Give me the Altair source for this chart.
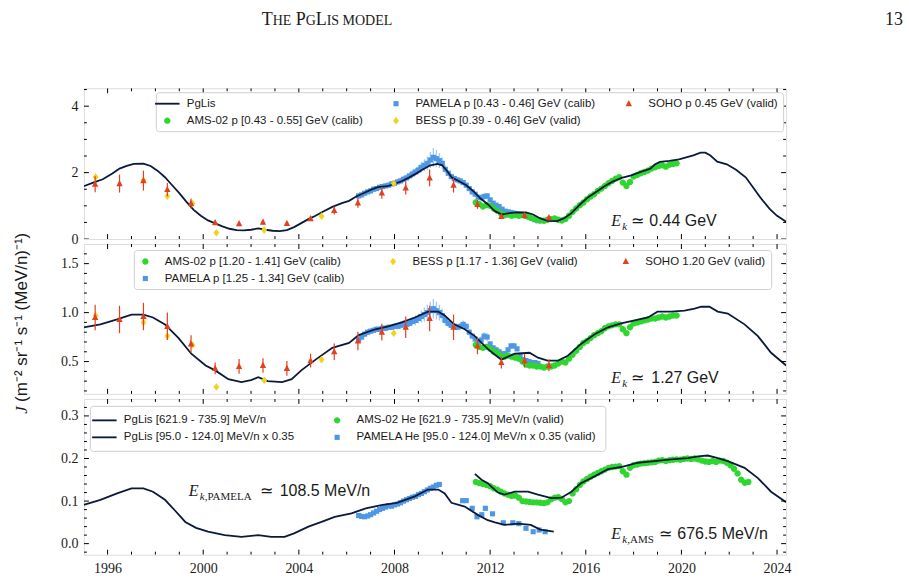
import altair as alt
import pandas as pd

# ---------------- styling ----------------
SERIF = "Liberation Serif"
SANS = "Liberation Sans"
INK = "#1a1a1a"
NAVY = "#0b1a3b"
GREEN = "#2fd62f"
BLUE = "#4d97e6"
BLUE_ERR = "#93c0f0"
GOLD = "#f2d21b"
RED = "#e2401e"

# marker glyphs (unit box -1..1), shared by data points and legend entries
LINE_GLYPH = "M-2,-0.15L2,-0.15L2,0.15L-2,0.15Z"
CIRCLE = "M-0.52,0A0.52,0.52 0 1,0 0.52,0A0.52,0.52 0 1,0 -0.52,0Z"
SQUARE = "M-0.42,-0.42L0.42,-0.42L0.42,0.42L-0.42,0.42Z"
DIAMOND = "M0,-0.62L0.48,0L0,0.62L-0.48,0Z"
TRIANGLE = "M0,-0.6L0.52,0.42L-0.52,0.42Z"

W = 703
H1, H2, H3 = 151, 150, 156
X_DOMAIN = [1995.01, 2024.38]
Y1_DOMAIN = [0.0, 4.54]
Y2_DOMAIN = [0.17, 1.70]
Y3_DOMAIN = [-0.026, 0.340]

# ---------------- tick values ----------------
YEAR_MAJOR = [1996, 2000, 2004, 2008, 2012, 2016, 2020, 2024]
YEAR_MINOR = [1997, 1998, 1999, 2001, 2002, 2003, 2005, 2006, 2007, 2009, 2010, 2011,
              2013, 2014, 2015, 2017, 2018, 2019, 2021, 2022, 2023]
Y1_MAJOR = [0, 2, 4]
Y1_MINOR = [0.5, 1.0, 1.5, 2.5, 3.0, 3.5, 4.5]
Y2_MAJOR = [0.5, 1.0, 1.5]
Y2_MINOR = [0.2, 0.3, 0.4, 0.6, 0.7, 0.8, 0.9, 1.1, 1.2, 1.3, 1.4, 1.6]
Y3_MAJOR = [0.0, 0.1, 0.2, 0.3]
Y3_MINOR = [-0.02, 0.02, 0.04, 0.06, 0.08, 0.12, 0.14, 0.16, 0.18, 0.22, 0.24, 0.26,
            0.28, 0.32]

# ---------------- PgLis model curves ----------------
PGLIS_P1_YEARS = [1995.0, 1995.4, 1995.8, 1996.2, 1996.5, 1996.8, 1997.1, 1997.5, 1997.8,
                  1998.1, 1998.4, 1998.7, 1999.0, 1999.3, 1999.6, 1999.9, 2000.2, 2000.5,
                  2000.8, 2001.1, 2001.4, 2001.7, 2002.0, 2002.3, 2002.6, 2002.9, 2003.2,
                  2003.5, 2003.8, 2004.1, 2004.4, 2004.7, 2005.0, 2005.4, 2005.8, 2006.1,
                  2006.4, 2006.7, 2007.0, 2007.3, 2007.7, 2008.0, 2008.3, 2008.6, 2008.9,
                  2009.2, 2009.5, 2009.8, 2010.0, 2010.2, 2010.4, 2010.7, 2011.0, 2011.3,
                  2011.6, 2011.9, 2012.2, 2012.5, 2012.8, 2013.1, 2013.5, 2013.8, 2014.1,
                  2014.4, 2014.8, 2015.1, 2015.4, 2015.8, 2016.1, 2016.4, 2016.8, 2017.1,
                  2017.5, 2017.9, 2018.3, 2018.7, 2018.9, 2019.1, 2019.5, 2019.9, 2020.2,
                  2020.5, 2020.8, 2021.0, 2021.2, 2021.5, 2021.9, 2022.3, 2022.7, 2023.0,
                  2023.3, 2023.7, 2024.0, 2024.38]
PGLIS_P1 = [1.59, 1.70, 1.80, 1.97, 2.12, 2.20, 2.26, 2.27, 2.20,
            2.05, 1.86, 1.62, 1.38, 1.12, 0.88, 0.70, 0.56, 0.47,
            0.38, 0.31, 0.27, 0.26, 0.28, 0.32, 0.28, 0.25, 0.24,
            0.27, 0.36, 0.48, 0.60, 0.70, 0.82, 0.97, 1.08, 1.15,
            1.28, 1.38, 1.48, 1.56, 1.59, 1.66, 1.74, 1.85, 1.97,
            2.10, 2.22, 2.26, 2.22, 2.05, 1.85, 1.74, 1.62, 1.44,
            1.22, 1.05, 0.84, 0.74, 0.78, 0.80, 0.80, 0.74, 0.62,
            0.55, 0.54, 0.63, 0.78, 1.07, 1.26, 1.40, 1.60, 1.72,
            1.84, 1.92, 2.02, 2.12, 2.25, 2.32, 2.35, 2.40, 2.46,
            2.52, 2.60, 2.60, 2.52, 2.33, 2.25, 2.08, 1.85, 1.55,
            1.25, 0.90, 0.70, 0.52]

PGLIS_P2_YEARS = [1995.0, 1995.7, 1996.4, 1997.0, 1997.5, 1997.9, 1998.4, 1998.97, 1999.5,
                  2000.1, 2000.5, 2001.05, 2001.6, 2002.0, 2002.3, 2002.7, 2003.3, 2003.7,
                  2004.1, 2004.7, 2005.4, 2006.1, 2006.5, 2007.2, 2007.74, 2008.3, 2008.85,
                  2009.4, 2009.83, 2010.1, 2010.5, 2010.94, 2011.36, 2011.9, 2012.2, 2012.47,
                  2013.03, 2013.65, 2014.0, 2014.4, 2014.84, 2015.25, 2015.8, 2016.37,
                  2016.93, 2017.48, 2018.04, 2018.6, 2019.0, 2019.57, 2020.13, 2020.55,
                  2020.83, 2021.17, 2021.52, 2021.94, 2022.64, 2023.2, 2023.75, 2024.38]
PGLIS_P2 = [0.85, 0.88, 0.93, 0.98, 0.98, 0.95, 0.88, 0.74, 0.58,
            0.46, 0.41, 0.32, 0.29, 0.31, 0.34, 0.30, 0.29, 0.32,
            0.41, 0.52, 0.64, 0.69, 0.77, 0.83, 0.86, 0.90, 0.95,
            1.01, 1.01, 0.97, 0.88, 0.83, 0.76, 0.63, 0.57, 0.52,
            0.58, 0.59, 0.54, 0.51, 0.51, 0.56, 0.68, 0.78,
            0.85, 0.89, 0.92, 0.95, 1.01, 1.01, 1.02, 1.04,
            1.06, 1.06, 1.01, 0.99, 0.88, 0.76, 0.59, 0.46]

PGLIS_HE_LO_YEARS = [1995.0, 1995.7, 1996.4, 1997.0, 1997.5, 1997.9, 1998.4, 1998.8, 1999.25,
                     1999.7, 2000.2, 2000.9, 2001.6, 2002.3, 2002.85, 2003.4, 2003.8, 2004.4,
                     2004.95, 2005.5, 2006.2, 2006.8, 2007.5, 2008.1, 2008.85, 2009.4,
                     2009.83, 2010.1, 2010.38, 2010.94, 2011.5, 2011.9, 2012.2, 2012.6,
                     2013.17, 2013.7, 2014.1, 2014.66]
PGLIS_HE_LO = [0.091, 0.103, 0.118, 0.130, 0.130, 0.122, 0.103, 0.079, 0.051,
               0.037, 0.028, 0.020, 0.016, 0.020, 0.016, 0.016, 0.024, 0.040,
               0.051, 0.063, 0.071, 0.083, 0.091, 0.096, 0.111, 0.127,
               0.127, 0.118, 0.096, 0.087, 0.067, 0.055, 0.050, 0.044,
               0.047, 0.044, 0.033, 0.028]

PGLIS_HE_HI_YEARS = [2011.36, 2011.64, 2011.9, 2012.05, 2012.33, 2012.6, 2013.03, 2013.58,
                     2014.0, 2014.56, 2014.98, 2015.4, 2015.8, 2016.37, 2016.93, 2017.48,
                     2018.18, 2018.88, 2019.57, 2020.27, 2020.69, 2021.1, 2021.52, 2021.94,
                     2022.64, 2023.2, 2023.75, 2024.38]
PGLIS_HE_HI = [0.164, 0.150, 0.142, 0.134, 0.120, 0.115, 0.122, 0.122,
               0.115, 0.107, 0.108, 0.122, 0.142, 0.158, 0.175, 0.180,
               0.190, 0.194, 0.198, 0.201, 0.205, 0.207, 0.201, 0.194,
               0.178, 0.154, 0.122, 0.097]

# ---------------- AMS-02 ----------------
AMS_P_YEARS = [2011.4, 2011.55, 2011.7, 2011.85, 2012.0, 2012.15, 2012.3, 2012.45, 2012.6,
               2012.75, 2012.9, 2013.05, 2013.2, 2013.35, 2013.5, 2013.65, 2013.8, 2013.95,
               2014.1, 2014.25, 2014.4, 2014.55, 2014.7, 2014.85, 2015.0, 2015.15, 2015.3,
               2015.45, 2015.6, 2015.75, 2015.9, 2016.05, 2016.2, 2016.35, 2016.5, 2016.65,
               2016.8, 2016.95, 2017.1, 2017.25, 2017.4, 2017.55, 2017.7, 2017.85, 2018.0,
               2018.15, 2018.3, 2018.45, 2018.6, 2018.75, 2018.9, 2019.05, 2019.2, 2019.35,
               2019.5, 2019.65, 2019.8]
AMS_P1 = [1.10, 1.05, 0.98, 1.02, 1.00, 0.92, 0.85, 0.78, 0.72, 0.74,
          0.70, 0.72, 0.70, 0.72, 0.70, 0.66, 0.62, 0.58, 0.56, 0.55,
          0.58, 0.60, 0.62, 0.58, 0.56, 0.60, 0.70, 0.82, 0.92, 1.02,
          1.10, 1.20, 1.28, 1.35, 1.45, 1.52, 1.60, 1.68, 1.75, 1.82,
          1.86, 1.70, 1.60, 1.72, 1.88, 1.93, 1.98, 2.02, 2.06, 2.12,
          2.16, 2.20, 2.22, 2.18, 2.24, 2.26, 2.28]
AMS_P2 = [0.67, 0.65, 0.64, 0.65, 0.63, 0.60, 0.59, 0.56, 0.55, 0.56,
          0.55, 0.54, 0.53, 0.50, 0.47, 0.46, 0.46, 0.45, 0.45, 0.44,
          0.45, 0.45, 0.46, 0.48, 0.50, 0.49, 0.53, 0.57, 0.61, 0.65,
          0.69, 0.71, 0.74, 0.77, 0.79, 0.81, 0.84, 0.86, 0.87, 0.88,
          0.88, 0.83, 0.79, 0.85, 0.89, 0.90, 0.91, 0.92, 0.93, 0.94,
          0.94, 0.95, 0.96, 0.95, 0.96, 0.97, 0.97]

AMS_HE_YEARS = [2011.4, 2011.55, 2011.7, 2011.85, 2012.0, 2012.15, 2012.3, 2012.45, 2012.6,
                2012.75, 2012.9, 2013.05, 2013.2, 2013.35, 2013.5, 2013.65, 2013.8, 2013.95,
                2014.1, 2014.25, 2014.4, 2014.55, 2014.7, 2014.85, 2015.0, 2015.15, 2015.3,
                2015.45, 2015.6, 2015.75, 2015.9, 2016.05, 2016.2, 2016.35, 2016.5, 2016.65,
                2016.8, 2016.95, 2017.1, 2017.25, 2017.4, 2017.55, 2017.7, 2017.85, 2018.0,
                2018.15, 2018.3, 2018.45, 2018.6, 2018.75, 2018.9, 2019.05, 2019.2, 2019.35,
                2019.5, 2019.65, 2019.8, 2019.95, 2020.1, 2020.25, 2020.4, 2020.55, 2020.7,
                2020.85, 2021.0, 2021.15, 2021.3, 2021.45, 2021.6, 2021.75, 2021.9, 2022.05,
                2022.2, 2022.35, 2022.5, 2022.65, 2022.8]
AMS_HE = [0.145, 0.142, 0.140, 0.138, 0.135, 0.130, 0.127, 0.122, 0.118, 0.115,
          0.112, 0.113, 0.108, 0.100, 0.099, 0.098, 0.097, 0.097, 0.096, 0.095,
          0.097, 0.104, 0.108, 0.109, 0.105, 0.097, 0.100, 0.118, 0.128, 0.138,
          0.146, 0.152, 0.157, 0.162, 0.166, 0.170, 0.174, 0.178, 0.180, 0.181,
          0.182, 0.170, 0.162, 0.178, 0.184, 0.186, 0.188, 0.189, 0.190, 0.191,
          0.192, 0.195, 0.196, 0.194, 0.196, 0.197, 0.198, 0.197, 0.199, 0.200,
          0.199, 0.200, 0.198, 0.195, 0.193, 0.192, 0.194, 0.192, 0.195, 0.194,
          0.190, 0.184, 0.176, 0.165, 0.150, 0.143, 0.145]

# ---------------- PAMELA ----------------
PAMELA_YEARS = [2006.5, 2006.625, 2006.75, 2006.875, 2007.0, 2007.125, 2007.25, 2007.375,
                2007.5, 2007.625, 2007.75, 2007.875, 2008.0, 2008.125, 2008.25, 2008.375,
                2008.5, 2008.625, 2008.75, 2008.875, 2009.0, 2009.125, 2009.25, 2009.375,
                2009.5, 2009.625, 2009.75, 2009.875, 2010.0, 2010.125, 2010.25, 2010.375,
                2010.5, 2010.625, 2010.75, 2010.875, 2011.0, 2011.125, 2011.25, 2011.375,
                2011.5, 2011.625, 2011.75, 2011.875, 2012.0, 2012.125, 2012.25, 2012.375,
                2012.5, 2012.625, 2012.75, 2012.875, 2013.0, 2013.125, 2013.25, 2013.375,
                2013.5, 2013.625, 2013.75, 2013.875, 2014.0]
PAMELA_P1 = [1.30, 1.33, 1.38, 1.42, 1.45, 1.50, 1.52, 1.56, 1.58, 1.60,
             1.62, 1.66, 1.68, 1.72, 1.75, 1.80, 1.84, 1.90, 1.96, 2.02,
             2.08, 2.16, 2.22, 2.28, 2.38, 2.46, 2.42, 2.36, 2.28, 2.10,
             1.98, 1.88, 1.82, 1.78, 1.75, 1.70, 1.62, 1.52, 1.42, 1.35,
             1.26, 1.24, 1.28, 1.30, 1.18, 1.08, 1.02, 0.98, 0.90, 0.84,
             0.82, 0.80, 0.78, 0.76, 0.75, 0.72, 0.68, 0.66, 0.62, 0.58, 0.55]
PAMELA_P1_ERR = [0.07, 0.07, 0.08, 0.07, 0.08, 0.08, 0.07, 0.08, 0.08, 0.07,
                 0.08, 0.08, 0.09, 0.08, 0.09, 0.10, 0.10, 0.11, 0.12, 0.12,
                 0.14, 0.16, 0.18, 0.20, 0.24, 0.28, 0.26, 0.22, 0.18, 0.12,
                 0.10, 0.09, 0.08, 0.08, 0.09, 0.08, 0.08, 0.08, 0.08, 0.07,
                 0.07, 0.09, 0.10, 0.09, 0.07, 0.06, 0.06, 0.06, 0.05, 0.06,
                 0.05, 0.05, 0.05, 0.05, 0.05, 0.05, 0.05, 0.04, 0.04, 0.04, 0.04]
PAMELA_P2 = [0.72, 0.75, 0.78, 0.80, 0.81, 0.82, 0.83, 0.83, 0.84, 0.84,
             0.85, 0.85, 0.86, 0.86, 0.87, 0.88, 0.88, 0.89, 0.91, 0.92,
             0.94, 0.96, 0.98, 1.00, 1.02, 1.04, 1.02, 1.00, 0.97, 0.92,
             0.89, 0.87, 0.86, 0.85, 0.86, 0.88, 0.86, 0.80, 0.76, 0.73,
             0.70, 0.72, 0.76, 0.75, 0.68, 0.64, 0.62, 0.60, 0.58, 0.58,
             0.62, 0.66, 0.66, 0.63, 0.56, 0.52, 0.51, 0.50, 0.49, 0.49, 0.48]
PAMELA_P2_ERR = [0.03, 0.03, 0.03, 0.03, 0.03, 0.03, 0.03, 0.03, 0.03, 0.03,
                 0.03, 0.03, 0.03, 0.03, 0.04, 0.04, 0.04, 0.04, 0.04, 0.05,
                 0.05, 0.06, 0.07, 0.08, 0.09, 0.10, 0.09, 0.08, 0.07, 0.05,
                 0.04, 0.04, 0.03, 0.03, 0.04, 0.04, 0.03, 0.03, 0.03, 0.03,
                 0.03, 0.04, 0.04, 0.04, 0.03, 0.03, 0.03, 0.03, 0.03, 0.03,
                 0.03, 0.03, 0.03, 0.03, 0.03, 0.03, 0.02, 0.02, 0.02, 0.02, 0.02]

PAMELA_HE_YEARS = [2006.5, 2006.625, 2006.75, 2006.875, 2007.0, 2007.125, 2007.25, 2007.375,
                   2007.5, 2007.625, 2007.75, 2007.875, 2008.0, 2008.125, 2008.25, 2008.375,
                   2008.5, 2008.625, 2008.75, 2008.875, 2009.0, 2009.125, 2009.25, 2009.375,
                   2009.5, 2009.625, 2009.75, 2009.875,
                   2010.85, 2011.0, 2011.25, 2011.45, 2011.65, 2011.8, 2012.1, 2012.55,
                   2012.95, 2013.2, 2013.5, 2013.8, 2014.05, 2014.3]
PAMELA_HE = [0.066, 0.064, 0.063, 0.065, 0.068, 0.072, 0.076, 0.080, 0.083, 0.086,
             0.089, 0.088, 0.091, 0.093, 0.096, 0.100, 0.103, 0.106, 0.109, 0.111,
             0.115, 0.118, 0.122, 0.126, 0.130, 0.133, 0.137, 0.139,
             0.101, 0.101, 0.083, 0.063, 0.068, 0.083, 0.070, 0.049,
             0.049, 0.047, 0.036, 0.028, 0.032, 0.028]

# ---------------- BESS balloon flights ----------------
BESS_YEARS = [1995.5, 1997.5, 1998.5, 1999.55, 2000.55, 2002.55, 2004.95, 2007.97]
BESS_P1 = [1.87, 1.77, 1.29, 1.07, 0.19, 0.27, 0.69, 1.67]
BESS_P2 = [0.97, 0.90, 0.76, 0.67, 0.24, 0.31, 0.52, 0.79]

# ---------------- SOHO/EPHIN yearly ----------------
SOHO_YEARS = [1995.48, 1996.5, 1997.5, 1998.5, 1999.49, 2000.5, 2001.5, 2002.5, 2003.5,
              2004.49, 2005.48, 2006.47, 2007.47, 2008.47, 2009.47, 2010.47, 2011.47,
              2012.47, 2013.44, 2014.46]
SOHO_P1 = [1.65, 1.67, 1.76, 1.49, 1.07, 0.49, 0.46, 0.51, 0.47, 0.61, 0.86, 1.09, 1.39,
           1.54, 1.84, 1.62, 1.04, 0.68, 0.71, 0.64]
SOHO_P1_ERR = [0.24, 0.27, 0.30, 0.20, 0.15, 0.07, 0.05, 0.07, 0.05, 0.07, 0.12, 0.15,
               0.18, 0.20, 0.25, 0.22, 0.13, 0.08, 0.08, 0.07]
SOHO_P2 = [0.95, 0.93, 0.96, 0.86, 0.68, 0.43, 0.45, 0.46, 0.43, 0.51, 0.60, 0.71, 0.80,
           0.85, 0.94, 0.85, 0.66, 0.49, 0.51, 0.46]
SOHO_P2_ERR = [0.13, 0.14, 0.14, 0.14, 0.09, 0.06, 0.075, 0.075, 0.075, 0.07, 0.085,
               0.095, 0.085, 0.11, 0.13, 0.13, 0.085, 0.06, 0.07, 0.06]

# ---------------- legend labels (column-major order of the legend grid) ----------------
P1_LEGEND = ["PgLis", "AMS-02 p [0.43 - 0.55] GeV (calib)",
             "PAMELA p [0.43 - 0.46] GeV (calib)", "BESS p [0.39 - 0.46] GeV (valid)",
             "SOHO p 0.45 GeV (valid)"]
P1_COLORS = [NAVY, GREEN, BLUE, GOLD, RED]
P1_SHAPES = [LINE_GLYPH, CIRCLE, SQUARE, DIAMOND, TRIANGLE]

P2_LEGEND = ["AMS-02 p [1.20 - 1.41] GeV (calib)", "SOHO 1.20 GeV (valid)",
             "BESS p [1.17 - 1.36] GeV (valid)", "PAMELA p [1.25 - 1.34] GeV (calib)"]
P2_COLORS = [GREEN, RED, GOLD, BLUE]
P2_SHAPES = [CIRCLE, TRIANGLE, DIAMOND, SQUARE]

P3_LEGEND = ["PgLis [621.9 - 735.9] MeV/n", "PgLis [95.0 - 124.0] MeV/n x 0.35",
             "AMS-02 He [621.9 - 735.9] MeV/n (valid)",
             "PAMELA He [95.0 - 124.0] MeV/n x 0.35 (valid)"]
P3_COLORS = [NAVY, NAVY, GREEN, BLUE]
P3_SHAPES = [LINE_GLYPH, LINE_GLYPH, CIRCLE, SQUARE]

ONE = pd.DataFrame({"k": [0]})


def pts(xs, ys, name=None):
    return pd.DataFrame([{"x": a, "y": b, "series": name} for a, b in zip(xs, ys)])


def bars(xs, ys, errs):
    return pd.DataFrame([{"x": a, "lo": b - e, "hi": b + e} for a, b, e in zip(xs, ys, errs)])


def x_enc(show_labels):
    axis = None
    if show_labels:
        axis = alt.Axis(values=YEAR_MAJOR, format="d", title=None, tickSize=0, domain=False,
                        grid=False, labelFont=SERIF, labelFontSize=14, labelColor=INK,
                        labelPadding=7, labelFlush=False)
    return alt.X("x:Q", scale=alt.Scale(domain=X_DOMAIN, nice=False, zero=False), axis=axis)


def y_factory(domain, major, fmt):
    scale = alt.Scale(domain=domain, nice=False, zero=False)
    axis = alt.Axis(values=major, format=fmt, title=None, tickSize=0, domain=False, grid=False,
                    labelFont=SERIF, labelFontSize=14, labelColor=INK, labelPadding=6)

    def enc(field="y"):
        return alt.Y(f"{field}:Q", scale=scale, axis=axis)
    return enc


def text(txt, x, y, size, font=SANS, style="normal", align="left",
         baseline="alphabetic", angle=0):
    kw = dict(text=txt, font=font, fontSize=size, fontStyle=style, align=align,
              baseline=baseline, color=INK)
    if angle:
        kw["angle"] = angle
    return alt.Chart(ONE).mark_text(**kw).encode(x=alt.value(x), y=alt.value(y))


def energy(x, y, sub_it, sub_rm, value, op_x, val_x):
    out = [text("E", x, y, 16, SERIF, "italic"),
           text(sub_it, x + 11, y + 4, 11, SERIF, "italic")]
    if sub_rm:
        out.append(text(sub_rm, x + 16, y + 4, 11, SERIF))
    out += [text("\u2243", op_x, y, 16, SERIF), text(value, val_x, y, 16, SANS)]
    return out


def ticks(xe, ye, h, ymajor, yminor):
    out = []
    for vals, ln in ((YEAR_MAJOR, 5), (YEAR_MINOR, 3)):
        d = pd.DataFrame({"x": vals})
        out.append(alt.Chart(d).mark_rule(color="black", strokeWidth=1, clip=True)
                   .encode(x=xe, y=alt.value(h), y2=alt.value(h - ln)))
        out.append(alt.Chart(d).mark_rule(color="black", strokeWidth=1, clip=True)
                   .encode(x=xe, y=alt.value(0), y2=alt.value(ln)))
    for vals, ln in ((ymajor, 5), (yminor, 3)):
        d = pd.DataFrame({"y": vals})
        out.append(alt.Chart(d).mark_rule(color="black", strokeWidth=1, clip=True)
                   .encode(y=ye("y"), x=alt.value(0), x2=alt.value(ln)))
        out.append(alt.Chart(d).mark_rule(color="black", strokeWidth=1, clip=True)
                   .encode(y=ye("y"), x=alt.value(W), x2=alt.value(W - ln)))
    return out


def make_legend(lx, ly, cols, pad, colpad):
    return alt.Legend(title=None, orient="none", legendX=lx, legendY=ly, columns=cols,
                      symbolSize=150, symbolStrokeWidth=0, symbolOpacity=1,
                      labelFont=SANS, labelFontSize=11.5, labelColor=INK, labelLimit=400,
                      labelOffset=13, fillColor="white", strokeColor="#cfcfcf",
                      cornerRadius=3, padding=pad, rowPadding=5, columnPadding=colpad)


def scatter(df, xe, ye, dom, colors, shapes, leg):
    return alt.Chart(df).mark_point(filled=True, size=150, opacity=1, strokeWidth=0).encode(
        x=xe, y=ye("y"),
        color=alt.Color("series:N", scale=alt.Scale(domain=dom, range=colors), legend=leg),
        shape=alt.Shape("series:N", scale=alt.Scale(domain=dom, range=shapes), legend=leg))


def errbars(df, xe, ye, color, width, opacity=1.0):
    return alt.Chart(df).mark_rule(color=color, strokeWidth=width, opacity=opacity).encode(
        x=xe, y=ye("lo"), y2=alt.Y2("hi:Q"))


def curve(df, xe, ye):
    return alt.Chart(df).mark_line(color=NAVY, strokeWidth=1.8, clip=True).encode(
        x=xe, y=ye("y"))


# ---------------- panel 1: protons ~0.44 GeV ----------------
xe = x_enc(False)
ye1 = y_factory(Y1_DOMAIN, Y1_MAJOR, "d")
leg1 = make_legend(72, 4, 3, 5, 26)
p1_layers = [
    errbars(bars(PAMELA_YEARS, PAMELA_P1, PAMELA_P1_ERR), xe, ye1, BLUE_ERR, 1.2, 0.9),
    scatter(pts(PAMELA_YEARS, PAMELA_P1, P1_LEGEND[2]), xe, ye1, P1_LEGEND, P1_COLORS, P1_SHAPES, leg1),
    scatter(pts(AMS_P_YEARS, AMS_P1, P1_LEGEND[1]), xe, ye1, P1_LEGEND, P1_COLORS, P1_SHAPES, leg1),
    curve(pts(PGLIS_P1_YEARS, PGLIS_P1), xe, ye1),
    scatter(pts(BESS_YEARS, BESS_P1, P1_LEGEND[3]), xe, ye1, P1_LEGEND, P1_COLORS, P1_SHAPES, leg1),
    errbars(bars(SOHO_YEARS, SOHO_P1, SOHO_P1_ERR), xe, ye1, RED, 1.2),
    scatter(pts(SOHO_YEARS, SOHO_P1, P1_LEGEND[4]), xe, ye1, P1_LEGEND, P1_COLORS, P1_SHAPES, leg1),
]
p1_layers += ticks(xe, ye1, H1, Y1_MAJOR, Y1_MINOR)
p1_layers += energy(528, 138, "k", None, "0.44 GeV", 548, 566)
# running page header
head_y = -63
p1_layers += [
    text("T", 178, head_y, 18, SERIF), text("HE", 189, head_y, 14, SERIF),
    text("P", 212, head_y, 18, SERIF), text("G", 222, head_y, 14, SERIF),
    text("L", 232, head_y, 18, SERIF), text("IS MODEL", 243, head_y, 14, SERIF),
    text("13", 802, head_y, 18, SERIF),
]
panel1 = alt.layer(*p1_layers).properties(width=W, height=H1)

# ---------------- panel 2: protons ~1.27 GeV ----------------
ye2 = y_factory(Y2_DOMAIN, Y2_MAJOR, ".1f")
leg2 = make_legend(50, 6, 3, 5, 41)
p2_layers = [
    errbars(bars(PAMELA_YEARS, PAMELA_P2, PAMELA_P2_ERR), xe, ye2, BLUE_ERR, 1.2, 0.9),
    scatter(pts(PAMELA_YEARS, PAMELA_P2, P2_LEGEND[3]), xe, ye2, P2_LEGEND, P2_COLORS, P2_SHAPES, leg2),
    scatter(pts(AMS_P_YEARS, AMS_P2, P2_LEGEND[0]), xe, ye2, P2_LEGEND, P2_COLORS, P2_SHAPES, leg2),
    curve(pts(PGLIS_P2_YEARS, PGLIS_P2), xe, ye2),
    scatter(pts(BESS_YEARS, BESS_P2, P2_LEGEND[2]), xe, ye2, P2_LEGEND, P2_COLORS, P2_SHAPES, leg2),
    errbars(bars(SOHO_YEARS, SOHO_P2, SOHO_P2_ERR), xe, ye2, RED, 1.2),
    scatter(pts(SOHO_YEARS, SOHO_P2, P2_LEGEND[1]), xe, ye2, P2_LEGEND, P2_COLORS, P2_SHAPES, leg2),
]
p2_layers += ticks(xe, ye2, H2, Y2_MAJOR, Y2_MINOR)
p2_layers += energy(528, 139, "k", None, "1.27 GeV", 548, 568)
# shared y-axis title
p2_layers += [
    text("J", -62, 170, 17, SERIF, "italic", baseline="middle", angle=270),
    text("(m\u207b\u00b2 sr\u207b\u00b9 s\u207b\u00b9 (MeV/n)\u207b\u00b9)", -62, 158, 17, SANS,
         baseline="middle", angle=270),
]
panel2 = alt.layer(*p2_layers).properties(width=W, height=H2)

# ---------------- panel 3: helium ----------------
xe3 = x_enc(True)
ye3 = y_factory(Y3_DOMAIN, Y3_MAJOR, ".1f")
leg3 = make_legend(6, 7, 2, 8, 36)
p3_layers = [
    scatter(pts(PAMELA_HE_YEARS, PAMELA_HE, P3_LEGEND[3]), xe3, ye3, P3_LEGEND, P3_COLORS, P3_SHAPES, leg3),
    scatter(pts(AMS_HE_YEARS, AMS_HE, P3_LEGEND[2]), xe3, ye3, P3_LEGEND, P3_COLORS, P3_SHAPES, leg3),
    curve(pts(PGLIS_HE_LO_YEARS, PGLIS_HE_LO), xe3, ye3),
    curve(pts(PGLIS_HE_HI_YEARS, PGLIS_HE_HI), xe3, ye3),
]
p3_layers += ticks(xe3, ye3, H3, Y3_MAJOR, Y3_MINOR)
p3_layers += energy(105, 97, "k", ",PAMELA", "108.5 MeV/n", 176, 196)
p3_layers += energy(528, 140, "k", ",AMS", "676.5 MeV/n", 576, 594)
panel3 = alt.layer(*p3_layers).properties(width=W, height=H3)

chart = (
    alt.vconcat(panel1, panel2, panel3, spacing=5, bounds="flush")
    .resolve_scale(x="independent", y="independent", color="independent", shape="independent")
    .properties(padding={"left": 12, "top": 10, "right": 5, "bottom": 5})
    .configure_view(stroke="black", strokeWidth=1.2)
    .configure(background="white")
)

chart.save("out.html", embed_options={"renderer": "svg", "actions": False})
